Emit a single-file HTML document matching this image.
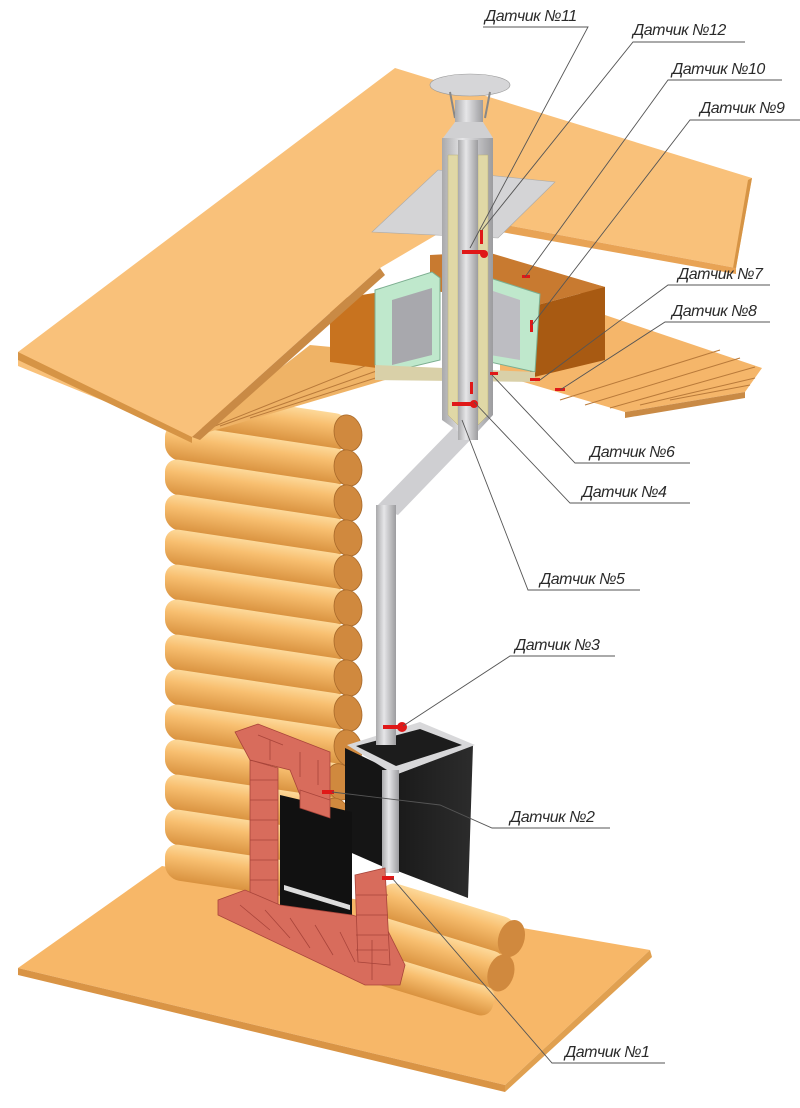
<!DOCTYPE html>
<html><head><meta charset="utf-8"><style>
html,body{margin:0;padding:0;background:#fff;}
svg{display:block}
text{font-family:"Liberation Sans","DejaVu Sans",sans-serif;font-style:italic;font-size:16px;fill:#2a2a2a;letter-spacing:-0.5px}
</style></head><body>
<svg width="800" height="1108" viewBox="0 0 800 1108" xmlns="http://www.w3.org/2000/svg">
<defs>
<linearGradient id="log" x1="0" y1="0" x2="0" y2="1">
<stop offset="0" stop-color="#fdd99a"/><stop offset="0.35" stop-color="#f8bf70"/><stop offset="1" stop-color="#d9923f"/></linearGradient>
<linearGradient id="pipe" x1="0" y1="0" x2="1" y2="0">
<stop offset="0" stop-color="#a9a9ab"/><stop offset="0.4" stop-color="#e6e6e8"/><stop offset="1" stop-color="#9c9c9f"/></linearGradient>
<linearGradient id="stove" x1="0" y1="0" x2="1" y2="0">
<stop offset="0" stop-color="#1a1a1a"/><stop offset="1" stop-color="#2c2c2c"/></linearGradient>
</defs>

<!-- floor -->
<polygon points="18,968 162,866 650,950 505,1085" fill="#f7b768"/>
<polygon points="18,968 505,1085 505,1092 18,975" fill="#d99445"/>
<polygon points="505,1085 650,950 652,957 505,1092" fill="#e0a050"/>

<!-- log wall -->
<g transform="translate(0,-25) skewY(8.5)">
<g>
<rect x="165" y="388" width="185" height="36" rx="14" fill="url(#log)"/>
<rect x="165" y="423" width="185" height="36" rx="14" fill="url(#log)"/>
<rect x="165" y="458" width="185" height="36" rx="14" fill="url(#log)"/>
<rect x="165" y="493" width="185" height="36" rx="14" fill="url(#log)"/>
<rect x="165" y="528" width="185" height="36" rx="14" fill="url(#log)"/>
<rect x="165" y="563" width="185" height="36" rx="14" fill="url(#log)"/>
<rect x="165" y="598" width="185" height="36" rx="14" fill="url(#log)"/>
<rect x="165" y="633" width="185" height="36" rx="14" fill="url(#log)"/>
<rect x="165" y="668" width="185" height="36" rx="14" fill="url(#log)"/>
<rect x="165" y="703" width="185" height="36" rx="14" fill="url(#log)"/>
<rect x="165" y="738" width="185" height="36" rx="14" fill="url(#log)"/>
<rect x="165" y="773" width="185" height="36" rx="14" fill="url(#log)"/>
<rect x="165" y="808" width="185" height="36" rx="14" fill="url(#log)"/>
<rect x="165" y="843" width="185" height="36" rx="14" fill="url(#log)"/>
</g>
<g fill="#d0893e" stroke="#a8692a" stroke-width="0.8">
<ellipse cx="348" cy="406" rx="14" ry="18"/><ellipse cx="348" cy="441" rx="14" ry="18"/>
<ellipse cx="348" cy="476" rx="14" ry="18"/><ellipse cx="348" cy="511" rx="14" ry="18"/>
<ellipse cx="348" cy="546" rx="14" ry="18"/><ellipse cx="348" cy="581" rx="14" ry="18"/>
<ellipse cx="348" cy="616" rx="14" ry="18"/><ellipse cx="348" cy="651" rx="14" ry="18"/>
<ellipse cx="348" cy="686" rx="14" ry="18"/><ellipse cx="348" cy="721" rx="14" ry="18"/>
<ellipse cx="340" cy="756" rx="14" ry="18"/><ellipse cx="336" cy="791" rx="14" ry="18"/>
</g>
</g>

<!-- front-right logs -->
<g transform="translate(385,880) rotate(17)">
<rect x="0" y="0" width="140" height="38" rx="14" fill="url(#log)"/>
<rect x="0" y="36" width="140" height="38" rx="14" fill="url(#log)"/>
<rect x="0" y="72" width="140" height="30" rx="12" fill="url(#log)"/>
<ellipse cx="138" cy="19" rx="13" ry="19" fill="#d0893e"/>
<ellipse cx="138" cy="55" rx="13" ry="19" fill="#d0893e"/>
</g>

<!-- stove -->
<polygon points="345,748 395,772 395,872 345,850" fill="#151515"/>
<polygon points="395,775 473,745 468,898 395,870" fill="url(#stove)"/>
<polygon points="347,745 420,722 475,745 395,775" fill="#d8d8da"/>
<polygon points="356,746 420,729 462,745 396,766" fill="#1c1c1c"/>
<rect x="382" y="770" width="17" height="103" fill="url(#pipe)"/>

<!-- fireplace firebox -->
<polygon points="280,795 352,812 352,915 280,905" fill="#111"/>
<polygon points="284,885 350,905 350,910 284,890" fill="#ddd"/>
<g fill="#d86c5c" stroke="#a8443a" stroke-width="0.8">
<polygon points="235,732 258,724 330,752 330,800 300,795 290,770 250,760"/>
<polygon points="250,760 278,768 278,905 250,898"/>
<polygon points="300,790 330,800 330,818 300,808"/>
<polygon points="218,900 245,890 280,905 352,915 385,925 405,965 400,985 365,985 218,915"/>
<polygon points="355,875 385,868 390,965 358,962"/>
</g>
<g stroke="#a8443a" stroke-width="0.8" fill="none">
<path d="M250,780h28M250,800h28M250,820h28M250,840h28M250,860h28M250,880h28M356,895h32M356,915h32M356,935h32M356,950h32"/>
<path d="M240,905l30,25M265,910l25,28M290,918l20,30M315,925l18,30M340,932l15,30M372,940l0,40"/>
<path d="M258,735l25,10M270,740l0,20M300,752l0,25M318,760l0,25"/>
</g>

<!-- lower pipe -->
<polygon points="456,425 478,432 398,515 376,507" fill="#cfcfd2"/>
<rect x="376" y="505" width="20" height="240" fill="url(#pipe)"/>

<!-- ceiling boards left (under roof) -->
<polygon points="192,437 310,345 385,352 385,380" fill="#efb366"/>
<g stroke="#b97a3a" stroke-width="1"><line x1="200" y1="432" x2="385" y2="358"/><line x1="220" y1="426" x2="385" y2="368"/><line x1="250" y1="418" x2="385" y2="375"/></g>
<!-- right ceiling boards -->
<polygon points="500,330 605,315 762,368 745,392 625,412 500,375" fill="#f5b66a"/>
<g stroke="#b97a3a" stroke-width="1"><line x1="560" y1="400" x2="720" y2="350"/><line x1="585" y1="405" x2="740" y2="358"/><line x1="610" y1="408" x2="755" y2="367"/><line x1="640" y1="405" x2="755" y2="378"/><line x1="670" y1="400" x2="750" y2="385"/></g>
<polygon points="625,412 745,392 745,398 625,418" fill="#c98a45"/>

<!-- brown box -->
<polygon points="330,300 393,290 393,370 330,362" fill="#c8731f"/>
<polygon points="470,250 605,287 605,300 470,265" fill="#b86a1e"/>
<polygon points="430,255 487,252 605,287 530,307 430,290" fill="#c87a30"/>
<polygon points="530,307 605,287 605,360 530,378" fill="#a85a12"/>
<polygon points="375,290 432,272 440,278 440,360 390,372 375,365" fill="#bfe8cc" stroke="#7cae90" stroke-width="1"/>
<polygon points="392,300 432,288 432,355 392,365" fill="#a8a8ad"/>
<polygon points="490,278 540,294 535,372 490,362" fill="#bfe8cc" stroke="#7cae90" stroke-width="1"/>
<polygon points="490,290 520,300 520,360 490,355" fill="#bdbdc2"/>
<polygon points="375,365 535,372 535,382 375,380" fill="#d9d0a8"/>

<!-- roof -->
<polygon points="18,352 395,68 752,178 736,268 490,222 470,215 380,268 192,437 18,366" fill="#f9c17a"/>
<polygon points="18,352 192,437 192,443 18,360" fill="#d69445"/>
<polygon points="752,178 736,268 733,268 748,180" fill="#d69445"/>
<polygon points="490,222 736,268 736,274 490,230" fill="#e8a355"/>
<polygon points="192,437 380,268 385,275 200,440" fill="#c98a45"/>
<polygon points="372,232 438,170 555,182 498,238" fill="#d4d4d6" stroke="#aaa" stroke-width="0.6"/>

<!-- chimney -->
<ellipse cx="470" cy="85" rx="40" ry="11" fill="#d6d6d8" stroke="#999" stroke-width="0.6"/>
<line x1="450" y1="92" x2="455" y2="118" stroke="#888" stroke-width="2"/>
<line x1="490" y1="92" x2="485" y2="118" stroke="#888" stroke-width="2"/>
<rect x="455" y="100" width="28" height="25" fill="url(#pipe)"/>
<polygon points="455,122 483,122 493,138 443,138" fill="#d0d0d2"/>
<polygon points="442,138 493,138 493,415 470,440 442,420" fill="url(#pipe)"/>
<polygon points="448,155 458,155 458,425 448,415" fill="#e0d8a6" stroke="#b8ae78" stroke-width="0.5"/>
<polygon points="478,155 488,155 488,415 478,425" fill="#e0d8a6" stroke="#b8ae78" stroke-width="0.5"/>
<rect x="458" y="140" width="20" height="300" fill="url(#pipe)"/>

<!-- sensors -->
<g fill="#e01818">
<rect x="462" y="250" width="22" height="4"/><circle cx="484" cy="254" r="4"/>
<rect x="480" y="230" width="3" height="14"/>
<rect x="522" y="275" width="8" height="3"/>
<rect x="530" y="320" width="3" height="12"/>
<rect x="530" y="378" width="10" height="3"/><rect x="555" y="388" width="10" height="3"/>
<rect x="490" y="372" width="8" height="3"/>
<rect x="452" y="402" width="20" height="4"/><circle cx="474" cy="404" r="4"/>
<rect x="470" y="382" width="3" height="12"/>
<rect x="383" y="725" width="22" height="4"/><circle cx="402" cy="727" r="5"/>
<rect x="322" y="790" width="12" height="4"/>
<rect x="382" y="876" width="12" height="4"/>
</g>

<!-- leaders -->
<g stroke="#555" stroke-width="0.9" fill="none">
<polyline points="483,27 588,27 470,248"/>
<polyline points="745,42 633,42 482,230"/>
<polyline points="782,80 668,80 525,277"/>
<polyline points="800,120 690,120 532,325"/>
<polyline points="770,285 668,285 540,380"/>
<polyline points="770,322 665,322 560,390"/>
<polyline points="690,463 575,463 492,375"/>
<polyline points="690,503 570,503 474,402"/>
<polyline points="640,590 528,590 462,420"/>
<polyline points="615,656 510,656 403,726"/>
<polyline points="610,828 492,828 440,805 332,792"/>
<polyline points="665,1063 552,1063 392,878"/>
</g>

<text x="485" y="21">Датчик №11</text>
<text x="633" y="35">Датчик №12</text>
<text x="672" y="74">Датчик №10</text>
<text x="700" y="113">Датчик №9</text>
<text x="678" y="279">Датчик №7</text>
<text x="672" y="316">Датчик №8</text>
<text x="590" y="457">Датчик №6</text>
<text x="582" y="497">Датчик №4</text>
<text x="540" y="584">Датчик №5</text>
<text x="515" y="650">Датчик №3</text>
<text x="510" y="822">Датчик №2</text>
<text x="565" y="1057">Датчик №1</text>
</svg>
</body></html>
